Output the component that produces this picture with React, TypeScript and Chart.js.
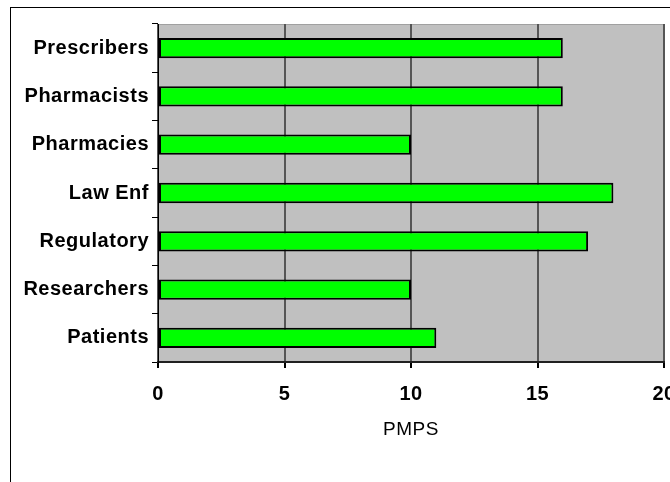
import React, { useEffect, useRef } from "react";
import { Chart, registerables } from "chart.js";

Chart.register(...registerables);

const categories = ["Prescribers", "Pharmacists", "Pharmacies", "Law Enf", "Regulatory", "Researchers", "Patients"];
const values = [16, 16, 10, 18, 17, 10, 11];
const xTicks = [0, 5, 10, 15, 20];
const xTitle = "PMPS";

const FONT = "'Liberation Sans', Arial, sans-serif";

const framePlugin = {
  id: "frame",
  beforeDraw(chart: any) {
    const { ctx, chartArea } = chart;
    ctx.save();
    ctx.fillStyle = "#ffffff";
    ctx.fillRect(0, 0, chart.width, chart.height);
    ctx.fillStyle = "#c0c0c0";
    ctx.fillRect(chartArea.left, chartArea.top, chartArea.right - chartArea.left, chartArea.bottom - chartArea.top);
    ctx.strokeStyle = "#000000";
    ctx.lineWidth = 1;
    ctx.beginPath();
    ctx.moveTo(10, 7.5);
    ctx.lineTo(chart.width, 7.5);
    ctx.moveTo(10.5, 7);
    ctx.lineTo(10.5, chart.height);
    ctx.stroke();
    ctx.strokeStyle = "#a0a0a0";
    ctx.beginPath();
    ctx.moveTo(chartArea.left, chartArea.top + 0.5);
    ctx.lineTo(chartArea.right, chartArea.top + 0.5);
    ctx.stroke();
    ctx.restore();
    try {
      (ctx as any).letterSpacing = "0.5px";
    } catch (e) {}
  },
  afterDraw(chart: any) {
    try {
      (chart.ctx as any).letterSpacing = "0px";
    } catch (e) {}
  },
};

export default function App() {
  const ref = useRef<HTMLCanvasElement>(null);
  useEffect(() => {
    if (!ref.current) return;
    const chart = new Chart(ref.current, {
      type: "bar",
      data: {
        labels: categories,
        datasets: [
          {
            data: values,
            backgroundColor: "#00ff00",
            borderColor: "#000000",
            borderWidth: 2,
            borderSkipped: false,
            categoryPercentage: 1,
            barPercentage: 0.42,
          },
        ],
      },
      options: {
        indexAxis: "y",
        animation: false,
        responsive: true,
        maintainAspectRatio: false,
        layout: { padding: { left: 0, top: 24, right: 56, bottom: 0 } },
        plugins: { legend: { display: false }, tooltip: { enabled: false } },
        scales: {
          x: {
            type: "linear",
            min: 0,
            max: 20,
            afterBuildTicks: (s: any) => {
              s.ticks = xTicks.map((v) => ({ value: v }));
            },
            afterFit: (s: any) => {
              s.height = 120;
            },
            grid: {
              color: "#555555",
              lineWidth: 2,
              drawTicks: true,
              tickLength: 6,
              tickColor: "#000000",
            },
            border: { display: true, color: "#202020", width: 2 },
            ticks: {
              color: "#000000",
              font: { family: FONT, size: 20, weight: "bold" },
              padding: 14,
              maxRotation: 0,
            },
            title: {
              display: true,
              text: xTitle,
              color: "#000000",
              font: { family: FONT, size: 19 },
              padding: { top: 0, bottom: 41 },
            },
          },
          y: {
            type: "category",
            afterFit: (s: any) => {
              s.width = 158;
            },
            grid: {
              offset: true,
              drawOnChartArea: false,
              drawTicks: true,
              tickLength: 6,
              color: "#000000",
              tickColor: "#000000",
            },
            border: { display: true, color: "#000000", width: 1 },
            ticks: {
              color: "#000000",
              font: { family: FONT, size: 20, weight: "bold" },
              padding: 3,
            },
          },
        },
      },
      plugins: [framePlugin],
    });
    return () => chart.destroy();
  }, []);
  return (
    <div style={{ position: "fixed", left: 0, top: 0, width: 670, height: 482, overflow: "hidden" }}>
      <div style={{ position: "absolute", left: 0, top: 0, width: 720, height: 482 }}>
        <canvas ref={ref} />
      </div>
    </div>
  );
}
